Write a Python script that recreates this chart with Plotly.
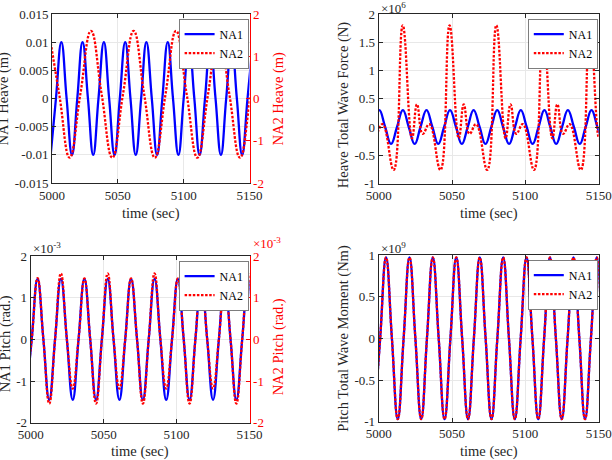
import plotly.graph_objects as go

# ---------------- data ----------------
# Top-left: heave of NA1 (m) and NA2 (m)
HEAVE_T_NA1 = [4999.0, 5003.0, 5007.1, 5011.1, 5015.2, 5019.2, 5023.2, 5027.3, 5031.3, 5035.3,
               5039.4, 5043.4, 5047.5, 5051.5, 5055.6, 5059.6, 5063.6, 5067.7, 5071.7, 5075.8,
               5079.8, 5083.8, 5087.9, 5091.9, 5096.0, 5100.0, 5104.0, 5108.1, 5112.1, 5116.2,
               5120.2, 5124.2, 5128.3, 5132.3, 5136.4, 5140.4, 5144.4, 5148.5, 5152.5]
HEAVE_NA1 = [-0.01, 0, 0.01, 0, -0.01, 0, 0.01, 0, -0.01, 0,
             0.01, 0, -0.01, 0, 0.01, 0, -0.01, 0, 0.01, 0,
             -0.01, 0, 0.01, 0, -0.01, 0, 0.01, 0, -0.01, 0,
             0.01, 0, -0.01, 0, 0.01, 0, -0.01, 0, 0.01]
HEAVE_T_NA2 = [4997.5, 5005.5, 5013.4, 5021.5, 5029.6, 5037.7, 5045.8, 5053.9, 5062.0, 5070.0,
               5078.1, 5086.2, 5094.2, 5102.3, 5110.4, 5118.5, 5126.6, 5134.7, 5142.8, 5150.9, 5159.0]
HEAVE_NA2 = [1.6, 0.1, -1.4, 0.1, 1.6, 0.1, -1.4, 0.1, 1.6, 0.1,
             -1.4, 0.1, 1.6, 0.1, -1.4, 0.1, 1.6, 0.1, -1.4, 0.1, 1.6]

# Top-right: heave total wave force (N)
FORCE_T_NA1 = [4996.4, 5000.4, 5004.4, 5008.4, 5012.5, 5016.5, 5020.5, 5024.5, 5028.5, 5032.6,
               5036.6, 5040.6, 5044.6, 5048.6, 5052.7, 5056.7, 5060.7, 5064.7, 5068.8, 5072.8,
               5076.8, 5080.8, 5084.8, 5088.9, 5092.9, 5096.9, 5100.9, 5104.9, 5109.0, 5113.0,
               5117.0, 5121.0, 5125.0, 5129.0, 5133.1, 5137.1, 5141.1, 5145.1, 5149.1, 5153.2]
FORCE_NA1 = [0, 3.0e5, 0, -3.0e5, 0, 3.0e5, 0, -3.0e5, 0, 3.0e5,
             0, -3.0e5, 0, 3.0e5, 0, -3.0e5, 0, 3.0e5, 0, -3.0e5,
             0, 3.0e5, 0, -3.0e5, 0, 3.0e5, 0, -3.0e5, 0, 3.0e5,
             0, -3.0e5, 0, 3.0e5, 0, -3.0e5, 0, 3.0e5, 0, -3.0e5]
FORCE_T_NA2 = [4994.2, 4998.1, 5002.6,
               5010.2, 5016.4, 5022.7, 5026.1, 5030.0, 5034.5,
               5042.1, 5048.3, 5054.6, 5058.0, 5061.9, 5066.4,
               5074.0, 5080.2, 5086.5, 5089.9, 5093.8, 5098.3,
               5105.9, 5112.1, 5118.4, 5121.8, 5125.7, 5130.2,
               5137.8, 5144.0, 5150.3, 5153.7]
FORCE_NA2 = [0.40e6, -0.12e6, 0.05e6,
             -0.76e6, 1.80e6, -0.20e6, 0.40e6, -0.12e6, 0.05e6,
             -0.76e6, 1.80e6, -0.20e6, 0.40e6, -0.12e6, 0.05e6,
             -0.76e6, 1.80e6, -0.20e6, 0.40e6, -0.12e6, 0.05e6,
             -0.76e6, 1.80e6, -0.20e6, 0.40e6, -0.12e6, 0.05e6,
             -0.76e6, 1.80e6, -0.20e6, 0.40e6]

# Bottom-left: pitch (rad.)
PITCH_T = [4996.7, 5000.7, 5004.7, 5008.7, 5012.7, 5016.7, 5020.7, 5024.8, 5028.8, 5032.8,
           5036.8, 5040.8, 5044.8, 5048.8, 5052.8, 5056.8, 5060.8, 5064.8, 5068.8, 5072.9,
           5076.9, 5080.9, 5084.9, 5088.9, 5092.9, 5096.9, 5100.9, 5104.9, 5108.9, 5112.9,
           5116.9, 5121.0, 5125.0, 5129.0, 5133.0, 5137.0, 5141.0, 5145.0, 5149.0, 5153.0]
PITCH_NA1 = [-1.45e-3, 0, 1.45e-3, 0, -1.45e-3, 0, 1.45e-3, 0, -1.45e-3, 0,
             1.45e-3, 0, -1.45e-3, 0, 1.45e-3, 0, -1.45e-3, 0, 1.45e-3, 0,
             -1.45e-3, 0, 1.45e-3, 0, -1.45e-3, 0, 1.45e-3, 0, -1.45e-3, 0,
             1.45e-3, 0, -1.45e-3, 0, 1.45e-3, 0, -1.45e-3, 0, 1.45e-3, 0]
PITCH_NA2 = [-1.18e-3, 0, 1.47e-3, 0, -1.54e-3, 0, 1.58e-3, 0, -1.18e-3, 0,
             1.46e-3, 0, -1.54e-3, 0, 1.58e-3, 0, -1.18e-3, 0, 1.46e-3, 0,
             -1.54e-3, 0, 1.58e-3, 0, -1.18e-3, 0, 1.46e-3, 0, -1.54e-3, 0,
             1.58e-3, 0, -1.18e-3, 0, 1.46e-3, 0, -1.54e-3, 0, 1.58e-3, 0]

# Bottom-right: pitch total wave moment (Nm)
MOMENT_T = [4997.0, 5001.0, 5005.0, 5009.0, 5013.0, 5017.0, 5021.0, 5025.0, 5029.0, 5032.9,
            5036.9, 5040.9, 5044.9, 5048.9, 5052.9, 5056.9, 5060.9, 5064.9, 5068.9, 5072.9,
            5076.9, 5080.9, 5084.9, 5088.8, 5092.8, 5096.8, 5100.8, 5104.8, 5108.8, 5112.8,
            5116.8, 5120.8, 5124.8, 5128.8, 5132.8, 5136.8, 5140.7, 5144.7, 5148.7, 5152.7, 5156.7]
MOMENT_NA1 = [-0.97e9, 0, 0.97e9, 0, -0.97e9, 0, 0.97e9, 0, -0.97e9, 0,
              0.97e9, 0, -0.97e9, 0, 0.97e9, 0, -0.97e9, 0, 0.97e9, 0,
              -0.97e9, 0, 0.97e9, 0, -0.97e9, 0, 0.97e9, 0, -0.97e9, 0,
              0.97e9, 0, -0.97e9, 0, 0.97e9, 0, -0.97e9, 0, 0.97e9, 0, -0.97e9]
MOMENT_NA2 = [-0.97e9, 0, 0.97e9, 0, -0.97e9, 0, 0.97e9, 0, -0.97e9, 0,
              0.97e9, 0, -0.97e9, 0, 0.97e9, 0, -0.97e9, 0, 0.97e9, 0,
              -0.97e9, 0, 0.97e9, 0, -0.97e9, 0, 0.97e9, 0, -0.97e9, 0,
              0.97e9, 0, -0.97e9, 0, 0.97e9, 0, -0.97e9, 0, 0.97e9, 0, -0.97e9]

X_TICKS = [5000, 5050, 5100, 5150]
HEAVE_TICKS = [-0.015, -0.01, -0.005, 0, 0.005, 0.01, 0.015]
HEAVE_LABELS = ["-0.015", "-0.01", "-0.005", "0", "0.005", "0.01", "0.015"]
HEAVE2_TICKS = [-2, -1, 0, 1, 2]
FORCE_TICKS = [-1e6, -0.5e6, 0, 0.5e6, 1e6, 1.5e6, 2e6]
FORCE_LABELS = ["-1", "-0.5", "0", "0.5", "1", "1.5", "2"]
PITCH_TICKS = [-2e-3, -1e-3, 0, 1e-3, 2e-3]
PITCH_LABELS = ["-2", "-1", "0", "1", "2"]
MOMENT_TICKS = [-1e9, -0.5e9, 0, 0.5e9, 1e9]
MOMENT_LABELS = ["-1", "-0.5", "0", "0.5", "1"]

# ---------------- styling ----------------
W, H = 612, 460
FONT = "Liberation Serif"
AX = "#262626"
GRID = "#e8e8e8"
BLUE = "rgb(0,0,255)"
RED = "rgb(255,0,0)"
TICK_SIZE = 13
TITLE_SIZE = 14.5
LW = 2.3
DOT = "2.5px,1.6px"


def px(x):
    return x / W


def py(y):
    return 1 - y / H


def xax(x0, x1, anchor):
    return dict(domain=[px(x0), px(x1)], range=[5000, 5150], tickvals=X_TICKS,
                anchor=anchor, showline=True, linecolor=AX, linewidth=1, mirror="ticks",
                ticks="inside", ticklen=4, tickcolor=AX, showgrid=True, gridcolor=GRID,
                zeroline=False, automargin=False,
                tickfont=dict(family=FONT, size=TICK_SIZE, color=AX))


def yax(y0, y1, anchor, rng, tv, tt, mirror="ticks", color=AX, grid=True):
    return dict(domain=[py(y1), py(y0)], range=rng, tickvals=tv, ticktext=tt, anchor=anchor,
                showline=True, linecolor=color, linewidth=1, mirror=mirror,
                ticks="inside", ticklen=4, tickcolor=color, showgrid=grid, gridcolor=GRID,
                zeroline=False, automargin=False,
                tickfont=dict(family=FONT, size=TICK_SIZE, color=color))


fig = go.Figure()


def line(x, y, xa, ya, name, color, dash, legend):
    fig.add_trace(go.Scatter(x=x, y=y, xaxis=xa, yaxis=ya, name=name, mode="lines",
                             line=dict(color=color, width=LW, dash=dash, shape="spline",
                                       smoothing=1.3),
                             legend=legend, showlegend=True, hoverinfo="skip"))


line(HEAVE_T_NA1, HEAVE_NA1, "x", "y", "NA1", BLUE, "solid", "legend")
line(HEAVE_T_NA2, HEAVE_NA2, "x", "y2", "NA2", RED, DOT, "legend")
line(FORCE_T_NA1, FORCE_NA1, "x2", "y3", "NA1", BLUE, "solid", "legend2")
line(FORCE_T_NA2, FORCE_NA2, "x2", "y3", "NA2", RED, DOT, "legend2")
line(PITCH_T, PITCH_NA1, "x3", "y4", "NA1", BLUE, "solid", "legend3")
line(PITCH_T, PITCH_NA2, "x3", "y5", "NA2", RED, DOT, "legend3")
line(MOMENT_T, MOMENT_NA1, "x4", "y6", "NA1", BLUE, "solid", "legend4")
line(MOMENT_T, MOMENT_NA2, "x4", "y6", "NA2", RED, DOT, "legend4")

# plot boxes in pixels: (left, right, top, bottom)
B1 = (52, 249.5, 14, 183)
B2 = (378.7, 598.7, 14, 183.5)
B3 = (30.7, 249.5, 256, 422.7)
B4 = (378.7, 598.7, 255, 421.7)

y2 = yax(B1[2], B1[3], "x", [-2, 2], HEAVE2_TICKS, [str(v) for v in HEAVE2_TICKS],
         mirror=False, color=RED, grid=False)
y2.pop("domain")
y2.update(overlaying="y", side="right")
y5 = yax(B3[2], B3[3], "x3", [-2e-3, 2e-3], PITCH_TICKS, PITCH_LABELS,
         mirror=False, color=RED, grid=False)
y5.pop("domain")
y5.update(overlaying="y4", side="right")


def legend(box):
    return dict(x=px(box[1] - 0.5), y=py(box[2] + 5), xanchor="right", yanchor="top",
                bgcolor="white", bordercolor=AX, borderwidth=0.6, itemwidth=30,
                tracegroupgap=0, traceorder="normal",
                font=dict(family=FONT, size=12, color="black"))


fig.update_layout(
    width=W, height=H, margin=dict(l=0, r=0, t=0, b=0, autoexpand=False),
    paper_bgcolor="white", plot_bgcolor="white",
    font=dict(family=FONT, color=AX),
    xaxis=xax(B1[0], B1[1], "y"),
    yaxis=yax(B1[2], B1[3], "x", [-0.015, 0.015], HEAVE_TICKS, HEAVE_LABELS, mirror=False),
    yaxis2=y2,
    xaxis2=xax(B2[0], B2[1], "y3"),
    yaxis3=yax(B2[2], B2[3], "x2", [-1e6, 2e6], FORCE_TICKS, FORCE_LABELS),
    xaxis3=xax(B3[0], B3[1], "y4"),
    yaxis4=yax(B3[2], B3[3], "x3", [-2e-3, 2e-3], PITCH_TICKS, PITCH_LABELS, mirror=False),
    yaxis5=y5,
    xaxis4=xax(B4[0], B4[1], "y6"),
    yaxis6=yax(B4[2], B4[3], "x4", [-1e9, 1e9], MOMENT_TICKS, MOMENT_LABELS),
    legend=legend(B1), legend2=legend(B2), legend3=legend(B3), legend4=legend(B4),
)


def note(text, x, y, color=AX, size=TITLE_SIZE, angle=0, xanchor="center", yanchor="middle"):
    fig.add_annotation(text=text, x=px(x), y=py(y), xref="paper", yref="paper",
                       showarrow=False, textangle=angle, xanchor=xanchor, yanchor=yanchor,
                       font=dict(family=FONT, size=size, color=color))


# x-axis titles
for b in (B1, B2):
    note("time (sec)", (b[0] + b[1]) / 2, 213)
for b in (B3, B4):
    note("time (sec)", (b[0] + b[1]) / 2, 451)

# y-axis titles
note("NA1 Heave (m)", 3, (B1[2] + B1[3]) / 2, angle=-90)
note("NA2 Heave (m)", 278, (B1[2] + B1[3]) / 2, color=RED, angle=-90)
note("Heave Total Wave Force (N)", 343.5, (B2[2] + B2[3]) / 2 + 6, angle=-90)
note("NA1 Pitch (rad.)", 5, (B3[2] + B3[3]) / 2 + 5, angle=-90)
note("NA2 Pitch (rad.)", 278, (B3[2] + B3[3]) / 2 + 8, color=RED, angle=-90)
note("Pitch Total Wave Moment (Nm)", 343.5, (B4[2] + B4[3]) / 2, angle=-90)

# exponent labels
note("×10<sup>6</sup>", 379, 8, size=13, xanchor="left")
note("×10<sup>-3</sup>", 31, 248, size=13, xanchor="left")
note("×10<sup>-3</sup>", 251, 243, color=RED, size=13, xanchor="left")
note("×10<sup>9</sup>", 379, 248, size=13, xanchor="left")

fig.write_html("out.html", post_script="document.body.style.margin='0';")
